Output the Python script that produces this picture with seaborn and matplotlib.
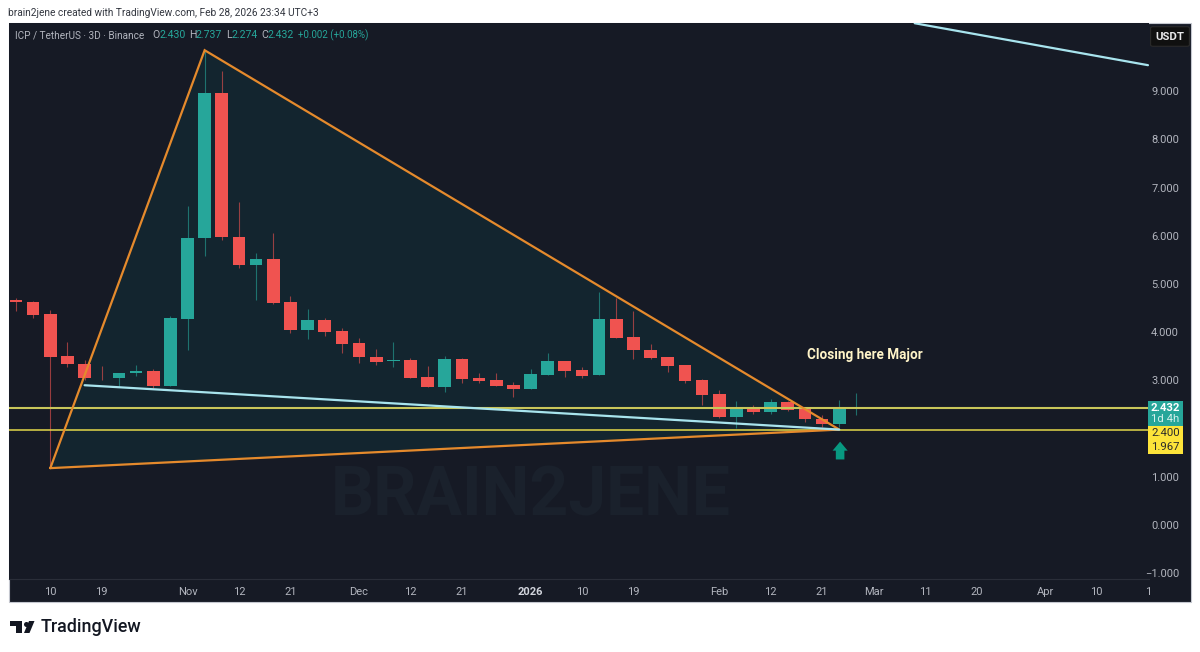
import numpy as np
import pandas as pd
import matplotlib
matplotlib.use('Agg')
import matplotlib.pyplot as plt
from matplotlib.patches import Rectangle, Polygon, FancyBboxPatch
import seaborn as sns

# 3D candles, ICP/USDT
opens = [4.67, 4.62, 4.37, 3.51, 3.35, 3.06, 3.04, 3.15, 3.19, 2.89,
         4.28, 5.96, 8.96, 5.98, 5.39, 5.52, 4.63, 4.04, 4.25, 4.02,
         3.77, 3.49, 3.40, 3.42, 3.08, 2.87, 3.45, 3.04, 3.00, 2.90,
         2.83, 3.12, 3.40, 3.21, 3.11, 4.27, 3.90, 3.64, 3.48, 3.31,
         3.01, 2.71, 2.25, 2.44, 2.34, 2.56, 2.40, 2.20, 2.09, 2.430]
closes = [4.62, 4.36, 3.49, 3.34, 3.04, 3.04, 3.16, 3.19, 2.88, 4.29,
          5.96, 8.96, 5.97, 5.39, 5.51, 4.61, 4.04, 4.25, 4.00, 3.75,
          3.48, 3.39, 3.42, 3.06, 2.87, 3.45, 3.03, 2.98, 2.89, 2.83,
          3.13, 3.40, 3.20, 3.10, 4.27, 3.88, 3.63, 3.46, 3.30, 2.99,
          2.70, 2.25, 2.44, 2.34, 2.55, 2.38, 2.19, 2.10, 2.44, 2.432]
highs = [4.70, 4.64, 4.47, 3.80, 3.42, 3.30, 3.16, 3.32, 3.24, 4.34,
         6.62, 9.85, 9.41, 6.71, 5.64, 6.06, 4.75, 4.48, 4.30, 4.08,
         3.89, 3.65, 3.79, 3.46, 3.30, 3.51, 3.46, 3.15, 3.15, 2.96,
         3.23, 3.57, 3.41, 3.27, 4.83, 4.70, 4.44, 3.75, 3.49, 3.32,
         3.02, 2.80, 2.58, 2.49, 2.61, 2.57, 2.42, 2.29, 2.59, 2.737]
lows = [4.44, 4.29, 1.18, 3.28, 3.01, 3.01, 2.87, 3.10, 2.84, 2.89,
        3.63, 5.59, 5.91, 5.34, 4.67, 4.58, 3.98, 3.86, 3.93, 3.56,
        3.37, 3.32, 3.28, 3.04, 2.87, 2.76, 2.94, 2.94, 2.88, 2.66,
        2.83, 3.12, 3.08, 3.06, 3.11, 3.88, 3.44, 3.44, 3.18, 2.94,
        2.48, 2.21, 2.02, 2.31, 2.30, 2.36, 2.13, 2.03, 2.03, 2.274]

x_ticks = [2, 5, 10, 13, 16, 20, 23, 26, 30, 33, 36, 41, 44, 47, 50, 53, 56, 60, 63, 66]
x_labels = ['10', '19', 'Nov', '12', '21', 'Dec', '12', '21', '2026', '10', '19',
            'Feb', '12', '21', 'Mar', '11', '20', 'Apr', '10', '1']
y_ticks = [9, 8, 7, 6, 5, 4, 3, 1, 0, -1]
y_labels = ['9.000', '8.000', '7.000', '6.000', '5.000', '4.000', '3.000', '1.000', '0.000', '\u22121.000']

# drawings (candle index, price)
tri_x = [2, 11, 48]
tri_y = [1.18, 9.85, 1.98]
trend_x = [4, 48]
trend_y = [2.90, 1.98]
upper_x = [52.4, 66]
upper_y = [10.41, 9.54]
level_last = 2.432
level_low = 1.98

BG = '#161a25'
UP = '#26a69a'
DOWN = '#f05350'
ORANGE = '#e58a2c'
ICE = '#a8e4ee'
GREY = '#b2b5be'

W, H = 1200, 652


def fx(px):
    return px / W


def fy(py):
    return 1 - py / H


sns.set_theme(style='dark', rc={'axes.facecolor': BG, 'figure.facecolor': 'white'})
plt.rcParams['font.family'] = ['Roboto', 'DejaVu Sans']

df = pd.DataFrame({'idx': range(len(opens)), 'open': opens, 'close': closes, 'high': highs, 'low': lows})
df['body'] = (df['close'] - df['open']).abs().clip(lower=0.02)
df['bottom'] = df[['open', 'close']].min(axis=1)
df['up'] = df['close'] >= df['open']

fig = plt.figure(figsize=(W / 100, H / 100), dpi=100)
fig.patches.append(Rectangle((fx(9), fy(602)), fx(1182), 579 / H, transform=fig.transFigure,
                             facecolor=BG, edgecolor='#c4c7cf', linewidth=0.8, zorder=-1))
ax = fig.add_axes([fx(9), fy(579), fx(1140), 556 / H])
ax.set_facecolor(BG)

# triangle fill under the candles
ax.fill(tri_x, tri_y, color='#13252f', linewidth=0, zorder=1)

# wicks and bodies
for is_up, col in [(True, UP), (False, DOWN)]:
    part = df[df['up'] == is_up]
    ax.vlines(part['idx'], part['low'], part['high'], color=col, linewidth=0.8, alpha=0.6, zorder=2)
    sns.barplot(data=part, x='idx', y='body', bottom=part['bottom'].values, native_scale=True,
                color=col, saturation=1, width=0.74, errorbar=None, linewidth=0, ax=ax, zorder=3)

# drawings
ax.plot(tri_x + tri_x[:1], tri_y + tri_y[:1], color=ORANGE, linewidth=1.6, zorder=5, solid_joinstyle='miter')
ax.axhline(level_last, color='#c9c65a', linewidth=1.5, zorder=4)
ax.axhline(level_low, color='#e4d84a', linewidth=1.1, zorder=4)
ax.plot(trend_x, trend_y, color=ICE, linewidth=1.6, zorder=5)
ax.plot(upper_x, upper_y, color=ICE, linewidth=1.6, zorder=5)
ax.arrow(48.05, 1.36, 0, 0.37, width=0.5, head_width=0.88, head_length=0.187,
         length_includes_head=True, color='#089981', linewidth=0, zorder=5)

fig.text(fx(807), fy(355), 'Closing here Major', color='#fff4c8', fontsize=9.75, fontweight='bold',
         ha='left', va='center')

# watermark
fig.text(fx(531), fy(497), 'BRAIN2JENE', color='#1a212c', fontsize=48.8, fontweight='bold',
         ha='center', va='center', zorder=0.5)

ax.set_xlim(-0.408, 66.06)
ax.set_ylim(-1.12, 10.415)
ax.set_xlabel('')
ax.set_ylabel('')
ax.yaxis.tick_right()
ax.set_xticks(x_ticks, x_labels)
ax.set_yticks(y_ticks, y_labels)
ax.tick_params(axis='x', length=0, pad=5.5, labelsize=8, labelcolor=GREY)
ax.tick_params(axis='y', length=0, pad=21.6, labelsize=8, labelcolor=GREY)
for lab in ax.get_yticklabels():
    lab.set_ha('right')
for lab in ax.get_xticklabels():
    if lab.get_text() == '2026':
        lab.set_fontweight('bold')
        lab.set_color('#d1d4dc')
for name, sp in ax.spines.items():
    sp.set_visible(name == 'bottom')
ax.spines['bottom'].set_color('#2a2e39')
ax.spines['bottom'].set_linewidth(0.8)
ax.grid(False)

# header
fig.text(fx(8), fy(13), 'brain2jene created with TradingView.com, Feb 28, 2026 23:34 UTC+3',
         color='#333740', fontsize=7.25, ha='left', va='center')
legend_parts = [(15, 'ICP / TetherUS \u00b7 3D \u00b7 Binance', GREY, 7.2), (152, 'O', GREY, 7.6), (159, '2.430', UP, 7.6),
                (189, 'H', GREY, 7.6), (195, '2.737', UP, 7.6), (226, 'L', GREY, 7.6), (231, '2.274', UP, 7.6),
                (261, 'C', GREY, 7.6), (268, '2.432', UP, 7.6), (298, '+0.002 (+0.08%)', UP, 7.0)]
for px, txt, col, size in legend_parts:
    fig.text(fx(px), fy(35.5), txt, color=col, fontsize=size, ha='left', va='center')

# currency button
fig.patches.append(FancyBboxPatch((fx(1153), fy(45)), fx(34), 17 / H, transform=fig.transFigure,
                                  boxstyle='round,pad=0.002', facecolor='#101010', edgecolor='#2a2a2a',
                                  linewidth=0.8, zorder=5, mutation_aspect=H / W * 1.8))
fig.text(fx(1170), fy(36.5), 'USDT', color='#e8e8ea', fontsize=8.2, fontweight='bold',
         ha='center', va='center', zorder=6)

# price tags
fig.patches.append(Rectangle((fx(1148), fy(426)), fx(35), 25.3 / H, transform=fig.transFigure,
                             facecolor=UP, edgecolor='none', zorder=5))
fig.patches.append(Rectangle((fx(1148), fy(454)), fx(35), 28 / H, transform=fig.transFigure,
                             facecolor='#fde43a', edgecolor='none', zorder=5))
for py, txt, col, wt in [(408, '2.432', 'white', 'bold'), (419.5, '1d 4h', '#d5f0ec', 'normal'),
                         (433.5, '2.400', '#2a2a2a', 'normal'), (447, '1.967', '#2a2a2a', 'normal')]:
    fig.text(fx(1165.5), fy(py), txt, color=col, fontsize=8.2, fontweight=wt, ha='center', va='center', zorder=6)

# TradingView logo
logo_col = '#131722'
fig.patches.append(Rectangle((fx(10), fy(626)), fx(12), 5 / H, transform=fig.transFigure, color=logo_col, linewidth=0))
fig.patches.append(Rectangle((fx(16), fy(633)), fx(6), 12 / H, transform=fig.transFigure, color=logo_col, linewidth=0))
fig.patches.append(Polygon([[fx(29), fy(621)], [fx(34.5), fy(621)], [fx(29.5), fy(633)], [fx(24), fy(633)]],
                           transform=fig.transFigure, color=logo_col, linewidth=0))
logo_dot = plt.Line2D([fx(25.5)], [fy(623.5)], marker='o', markersize=3.6, color=logo_col,
                      markeredgewidth=0, transform=fig.transFigure)
fig.add_artist(logo_dot)
fig.text(fx(41), fy(627), 'TradingView', color=logo_col, fontsize=12.9, fontweight='medium',
         ha='left', va='center')

fig.savefig('out.png', dpi=100)
